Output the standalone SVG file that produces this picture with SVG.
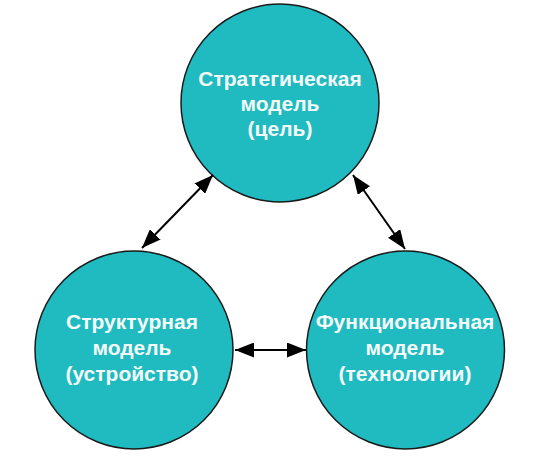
<svg xmlns="http://www.w3.org/2000/svg" width="550" height="461" viewBox="0 0 550 461">
<style>
.node circle{fill:#1fbbc0;stroke:#1a1a1a;stroke-width:1.5}
.node text{fill:#f4fafa;font-family:"Liberation Sans",Arial,sans-serif;font-weight:bold;font-size:21px;text-anchor:middle}
.conn line{stroke:#000;stroke-width:2;marker-start:url(#ah);marker-end:url(#ah)}
</style>
<defs>
<marker id="ah" viewBox="0 0 19 15" refX="19" refY="7.5" markerWidth="19" markerHeight="15" markerUnits="userSpaceOnUse" orient="auto-start-reverse">
<path d="M0,0 L19,7.5 L0,15 Z" fill="#000"/>
</marker>
</defs>
<rect width="550" height="461" fill="#fff"/>
<g id="strategic" class="node">
<circle cx="280" cy="103" r="99"/>
<text x="280" y="86">Стратегическая</text>
<text x="280" y="111">модель</text>
<text x="280" y="136">(цель)</text>
</g>
<g id="structural" class="node">
<circle cx="134" cy="350" r="99"/>
<text x="132" y="329">Структурная</text>
<text x="132" y="355">модель</text>
<text x="132" y="381">(устройство)</text>
</g>
<g id="functional" class="node">
<circle cx="405.5" cy="350" r="99"/>
<text x="405" y="329">Функциональная</text>
<text x="405" y="355">модель</text>
<text x="405" y="381">(технологии)</text>
</g>
<g id="connectors" class="conn">
<line x1="142" y1="248" x2="213" y2="175"/>
<line x1="353" y1="175" x2="405" y2="249"/>
<line x1="235" y1="350" x2="306" y2="350"/>
</g>
</svg>
